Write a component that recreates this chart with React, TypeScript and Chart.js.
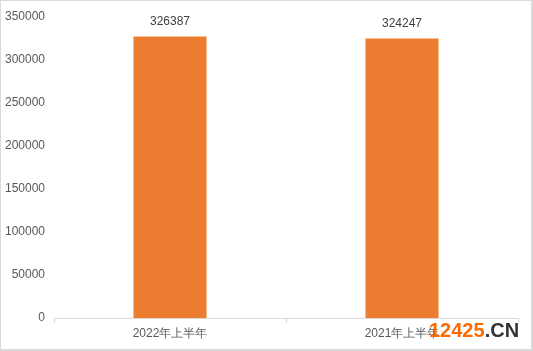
import React, { useEffect, useRef } from "react";
import { Chart, registerables } from "chart.js";

Chart.register(...registerables);

const categories = ["2022年上半年", "2021年上半年"];
const values = [326387, 324247];
const yTicks = [0, 50000, 100000, 150000, 200000, 250000, 300000, 350000];

const barColor = "#ED7D31";
const textColor = "#595959";
const FONT = "'Liberation Sans', Arial, sans-serif";

const valueLabels = {
  id: "valueLabels",
  afterDatasetsDraw(chart: any) {
    const ctx = chart.ctx;
    const meta = chart.getDatasetMeta(0);
    ctx.save();
    ctx.font = `12px ${FONT}`;
    ctx.fillStyle = "#404040";
    ctx.textAlign = "center";
    ctx.textBaseline = "middle";
    meta.data.forEach((bar: any, i: number) => {
      ctx.fillText(String(values[i]), bar.x, bar.y - 15);
    });
    ctx.restore();
  },
};

export default function App() {
  const ref = useRef<HTMLCanvasElement>(null);
  useEffect(() => {
    document.body.style.margin = "0";
    const chart = new Chart(ref.current!, {
      type: "bar",
      data: {
        labels: categories,
        datasets: [
          {
            data: values,
            backgroundColor: barColor,
            categoryPercentage: 1,
            barPercentage: 0.315,
          },
        ],
      },
      options: {
        animation: false,
        responsive: false,
        devicePixelRatio: 1,
        layout: { padding: { left: 0, right: 15, top: 9, bottom: 2 } },
        plugins: { legend: { display: false }, tooltip: { enabled: false } },
        scales: {
          x: {
            grid: {
              display: true,
              drawOnChartArea: false,
              drawTicks: true,
              tickLength: 5,
              color: "#d9d9d9",
              offset: true,
            },
            border: { display: true, color: "#d9d9d9" },
            ticks: { color: textColor, font: { size: 12, family: FONT }, padding: 3 },
            afterFit: (s: any) => {
              s.height = 31;
            },
          },
          y: {
            min: 0,
            max: 350000,
            afterBuildTicks: (s: any) => {
              s.ticks = yTicks.map((v) => ({ value: v }));
            },
            grid: { display: false, drawTicks: false },
            border: { display: false },
            ticks: {
              color: textColor,
              font: { size: 12, family: FONT },
              padding: 9,
              callback: (v: any) => String(v),
            },
            afterFit: (s: any) => {
              s.width = 54;
            },
          },
        },
      },
      plugins: [valueLabels],
    });
    return () => chart.destroy();
  }, []);
  return (
    <div
      style={{
        position: "fixed",
        left: 0,
        top: 0,
        width: 533,
        height: 351,
        background: "#fff",
        boxSizing: "border-box",
        borderTop: "1px solid #d9d9d9",
        borderLeft: "1px solid #d9d9d9",
        borderRight: "2px solid #d9d9d9",
        borderBottom: "2px solid #d9d9d9",
        overflow: "hidden",
      }}
    >
      <canvas
        ref={ref}
        width={533}
        height={351}
        style={{ position: "absolute", left: -1, top: -1, width: 533, height: 351 }}
      />
      <div
        style={{
          position: "absolute",
          left: 428,
          top: 317,
          font: `bold 20px ${FONT}`,
          lineHeight: "24px",
          whiteSpace: "nowrap",
        }}
      >
        <span style={{ color: "#FF6A00" }}>12425</span>
        <span style={{ color: "#333" }}>.CN</span>
      </div>
    </div>
  );
}
